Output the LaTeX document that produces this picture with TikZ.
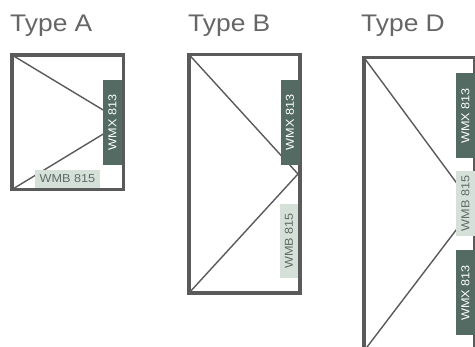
\documentclass[tikz,border=0pt]{standalone}
\usepackage{fontspec}
\setmainfont[FakeStretch=1.1]{Liberation Sans}
\definecolor{frameC}{HTML}{5A5A5A}
\definecolor{titleC}{HTML}{666666}
\definecolor{darkC}{HTML}{536B62}
\definecolor{lightC}{HTML}{D5E0D9}
\definecolor{lightT}{HTML}{5F6B66}
\tikzset{
  frame/.style={draw=frameC,line width=3.4pt,inner sep=0pt,outer sep=0pt,anchor=north west},
  title/.style={text=titleC,font=\fontsize{24}{26}\selectfont,anchor=base west,inner sep=0pt},
  diag/.style={draw=frameC,line width=1.4pt},
  wmx/.style={fill=darkC,text=white,font=\fontsize{11.5}{14}\selectfont,inner sep=0pt,minimum width=85pt,minimum height=19pt,rotate=90},
  wmb/.style={fill=lightC,text=lightT,font=\fontsize{11.5}{14}\selectfont,inner sep=0pt},
}
\begin{document}
\begin{tikzpicture}[x=1pt,y=-1pt]
\clip (0,0) rectangle (475,347);
\fill[white] (0,0) rectangle (475,347);
% titles
\node[title] (ta) at (10,32) {Type A};
\node[title] (tb) at (188,32) {Type B};
\node[title] (td) at (361,32) {Type D};
% Type A
\node[frame,minimum width=111.5pt,minimum height=134.5pt] (fa) at (12,55) {};
\coordinate (aa) at (123,122);
\draw[diag] (fa.north west) -- (aa);
\draw[diag] (fa.south west) -- (aa);
\node[wmx] (xa) at (112.5,122.5) {WMX 813};
\node[wmb,minimum width=65pt,minimum height=18pt] (ba) at (67.5,179) {WMB 815};
% Type B
\node[frame,minimum width=111pt,minimum height=238.5pt] (fb) at (189,54.5) {};
\coordinate (ab) at (298,174);
\draw[diag] (fb.north west) -- (ab);
\draw[diag] (fb.south west) -- (ab);
\node[wmx] (xb) at (290,122.5) {WMX 813};
\node[wmb,rotate=90,minimum width=74pt,minimum height=18pt] (bb) at (289,241) {WMB 815};
% Type D
\node[frame,minimum width=111pt,minimum height=293.5pt] (fd) at (364,57.5) {};
\coordinate (ad) at (474,206.5);
\draw[diag] (fd.north west) -- (ad);
\draw[diag] (fd.south west) -- (ad);
\node[wmx] (xd) at (465.5,116) {WMX 813};
\node[wmb,rotate=90,minimum width=65pt,minimum height=19pt] (bd) at (465.5,203.5) {WMB 815};
\node[wmx] (ye) at (465.5,293) {WMX 813};
\end{tikzpicture}
\end{document}
